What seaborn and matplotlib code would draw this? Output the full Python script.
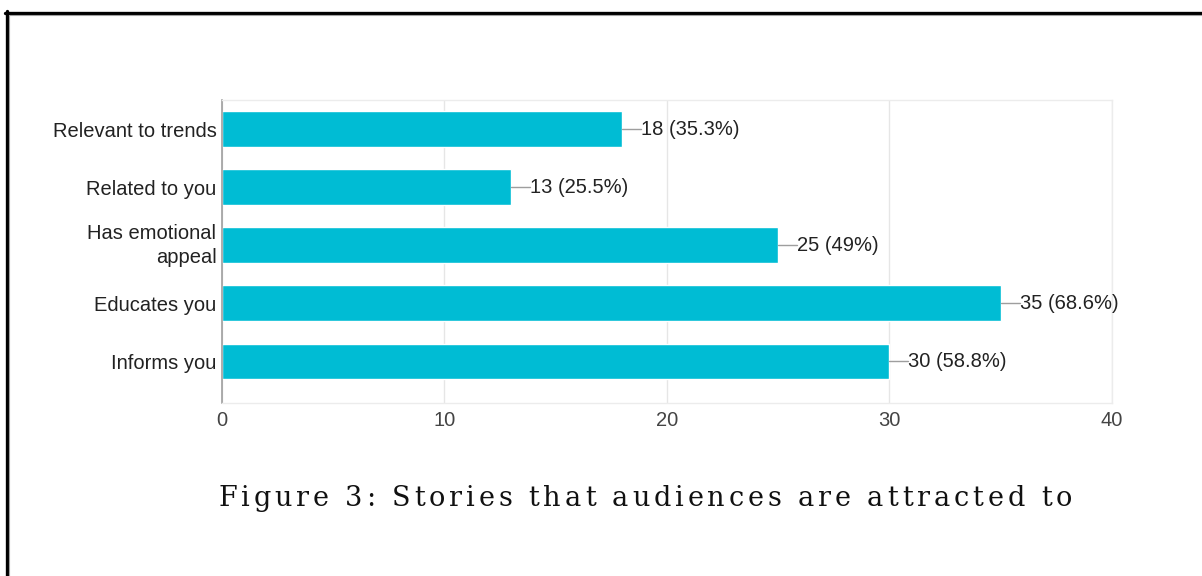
import matplotlib
matplotlib.use("Agg")
import matplotlib.pyplot as plt
import matplotlib.transforms as mtransforms
from matplotlib.lines import Line2D
from matplotlib import font_manager, ft2font
from matplotlib.font_manager import FontProperties
import seaborn as sns
import pandas as pd

# Survey responses: which stories audiences are attracted to
categories = ["Relevant to trends", "Related to you", "Has emotional\nappeal",
              "Educates you", "Informs you"]
counts = [18, 13, 25, 35, 30]
percents = [35.3, 25.5, 49, 68.6, 58.8]
x_ticks = [0, 10, 20, 30, 40]
title = "Figure 3: Stories that audiences are attracted to"

bar_color = "#00bcd4"
label_size = 14.5

sns.set_theme(style="white")
plt.rcParams["font.family"] = ["Liberation Sans", "DejaVu Sans"]

DPI = 100
W, H = 1202, 576
fig = plt.figure(figsize=(W / DPI, H / DPI), dpi=DPI)
ax = fig.add_axes([0.1847, 0.3003, 0.7404, 0.5260])

df = pd.DataFrame({"category": categories, "count": counts})
sns.barplot(data=df, y="category", x="count", orient="h", color=bar_color,
            saturation=1, width=0.61, ax=ax)

ax.set_xlim(0, 40)
ax.set_ylim(4.72, -0.5)
ax.set_xticks(x_ticks)
ax.set_xlabel("")
ax.set_ylabel("")
ax.grid(axis="x", color="#e6e6e6", linewidth=1)
ax.set_axisbelow(True)
for side in ["top", "bottom", "right"]:
    ax.spines[side].set_color("#ececec")
    ax.spines[side].set_linewidth(1)
ax.spines["left"].set_color("#9e9e9e")
ax.spines["left"].set_linewidth(1.2)

ax.tick_params(axis="y", length=0, pad=4, labelsize=label_size,
               labelcolor="#222222")
ax.tick_params(axis="x", length=0, pad=6, labelsize=label_size,
               labelcolor="#444444")
for lbl in ax.get_yticklabels():
    lbl.set_linespacing(1.35)
    if "\n" in lbl.get_text():
        # lift the two-line label a little
        lbl.set_transform(lbl.get_transform() +
                          mtransforms.ScaledTranslation(0, 4 / DPI,
                                                        fig.dpi_scale_trans))

# Value labels with short leader lines
lead = 0.85
for i, (c, p) in enumerate(zip(counts, percents)):
    ax.plot([c, c + lead], [i, i], color="#9e9e9e", linewidth=1, zorder=3)
    ax.text(c + lead, i, f"{c} ({p:g}%)", va="center", ha="left",
            fontsize=label_size, color="#222222")

# Caption set in a letter-spaced serif face, one glyph at a time
cap_size = 19.5
cap_left, cap_right, cap_y = 218, 1072, 499
prop = FontProperties(family=["DejaVu Serif"], size=cap_size)
font = ft2font.FT2Font(font_manager.findfont(prop))
font.set_size(cap_size, DPI)
advances = []
for ch in title:
    g = font.load_char(ord(ch))
    advances.append(g.linearHoriAdvance / 65536)
track = (cap_right - cap_left - sum(advances)) / (len(title) - 1)
x = cap_left
for ch, adv in zip(title, advances):
    fig.text(x / W, 1 - cap_y / H, ch, ha="left", va="center",
             fontproperties=prop, color="#111111")
    x += adv + track

# Page frame on the top and left edges
fig.add_artist(Line2D([5 / W, 1], [1 - 12.5 / H, 1 - 12.5 / H],
                      transform=fig.transFigure, color="black", linewidth=2.4))
fig.add_artist(Line2D([6.5 / W, 6.5 / W], [1 - 11 / H, 0],
                      transform=fig.transFigure, color="black", linewidth=2.4))
fig.add_artist(Line2D([9 / W, 1], [1 - 15 / H, 1 - 15 / H],
                      transform=fig.transFigure, color="#a0a0a0", linewidth=0.8))
fig.add_artist(Line2D([9.2 / W, 9.2 / W], [1 - 15 / H, 0],
                      transform=fig.transFigure, color="#a0a0a0", linewidth=0.8))

fig.savefig("out.png", dpi=DPI)
